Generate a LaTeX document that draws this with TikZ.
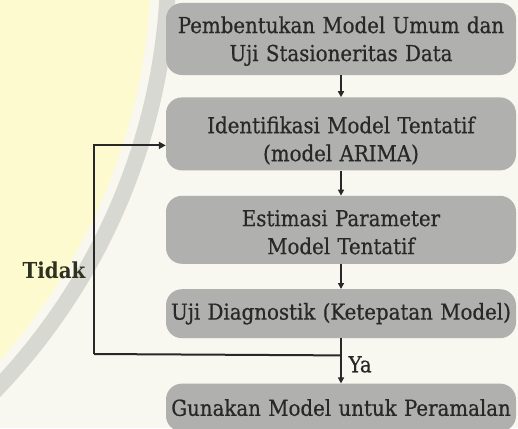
\documentclass[tikz,border=0pt]{standalone}
\usepackage{fontspec}
\setmainfont{DejaVu Serif Condensed}[FakeBold=0.6]
\newfontfamily\tidakfont{DejaVu Serif Condensed Bold}
\usepackage{tikz}
\usetikzlibrary{arrows.meta,positioning}
\definecolor{paper}{RGB}{248,247,240}
\definecolor{wmyellow}{RGB}{253,250,208}
\definecolor{wmgrey}{RGB}{216,216,210}
\definecolor{boxgrey}{RGB}{176,176,174}
\definecolor{ink}{RGB}{40,40,40}
\definecolor{olive}{RGB}{48,50,32}

\begin{document}
\begin{tikzpicture}[
  x=1pt,y=1pt,
  font=\fontsize{22}{28}\selectfont,
  bx/.style={fill=boxgrey,text=ink,rounded corners=16pt,text width=350pt,
             align=center,inner xsep=0pt,inner ysep=3pt},
  ar/.style={-{Triangle[length=6pt,width=6pt]},draw=ink,line width=1.5pt},
  fb/.style={draw=ink,line width=2pt}
]
% paper and watermark
\fill[paper] (0,0) rectangle (518,-428);
\useasboundingbox (0,0) rectangle (518,-428);
\fill[wmyellow] (-451.5,39.4) circle (603);
\draw[wmgrey,line width=16pt] (-451.5,39.4) circle (620);

\node[bx,text height=21pt,minimum height=72pt] (b1) at (341,-39)
  {Pembentukan Model Umum dan\\ Uji Stasioneritas Data};
\node[bx,text height=30pt,minimum height=73pt,below=22pt of b1] (b2)
  {Identifikasi Model Tentatif\\ (model ARIMA)};
\node[bx,text height=21pt,minimum height=68pt,below=25pt of b2] (b3)
  {Estimasi Parameter\\ Model Tentatif};
\node[bx,minimum height=49pt,below=25pt of b3] (b4)
  {Uji Diagnostik (Ketepatan Model)};
\node[bx,minimum height=48pt,below=45pt of b4] (b5)
  {Gunakan Model untuk Peramalan};

\draw[ar] (b1) -- (b2);
\draw[ar] (b2) -- (b3);
\draw[ar] (b3) -- (b4);
\draw[ar] (b4) -- (b5);

% loop back when the check fails
\coordinate (j) at ([yshift=-17pt]b4.south);
\coordinate (back) at (94,-354);
\draw[fb] (j) -- (back);
\draw[fb,-{Triangle[length=7pt,width=7pt]}] (back) |- ([yshift=-11.5pt]b2.west);
\node[text=olive,font=\fontsize{22}{27}\selectfont\tidakfont] (tidak) at (54,-270) {Tidak};
\node[text=ink,anchor=west] (ya) at ([xshift=4pt,yshift=-9pt]j) {Ya};
\end{tikzpicture}
\end{document}
